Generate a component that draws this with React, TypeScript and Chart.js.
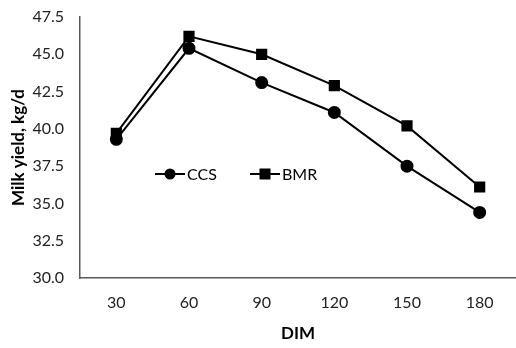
import React, { useEffect, useRef } from "react";
import { Chart, registerables } from "chart.js";

Chart.register(...registerables);

const categories = ["30", "60", "90", "120", "150", "180"];
const ccsValues = [39.3, 45.4, 43.1, 41.1, 37.5, 34.4];
const bmrValues = [39.7, 46.2, 45.0, 42.9, 40.2, 36.1];
const seriesNames = ["CCS", "BMR"];
const FONT = "Lato, 'Open Sans', sans-serif";

const legendPlugin = {
  id: "insideLegend",
  afterDraw(chart: any) {
    const ctx = chart.ctx;
    const items = [
      { label: seriesNames[0], x: 155, style: "circle" },
      { label: seriesNames[1], x: 250, style: "rect" },
    ];
    const y = 174;
    ctx.save();
    items.forEach((it) => {
      ctx.strokeStyle = "#000";
      ctx.lineWidth = 2;
      ctx.beginPath();
      ctx.moveTo(it.x, y);
      ctx.lineTo(it.x + 30, y);
      ctx.stroke();
      ctx.fillStyle = "#000";
      if (it.style === "circle") {
        ctx.beginPath();
        ctx.arc(it.x + 15, y, 5.5, 0, Math.PI * 2);
        ctx.fill();
      } else {
        ctx.fillRect(it.x + 9.5, y - 5.5, 11, 11);
      }
      ctx.font = `16px ${FONT}`;
      ctx.textBaseline = "middle";
      ctx.textAlign = "left";
      ctx.fillText(it.label, it.x + 32, y + 1);
    });
    ctx.restore();
  },
};

export default function App() {
  const ref = useRef<HTMLCanvasElement>(null);
  useEffect(() => {
    document.body.style.margin = "0";
    const chart = new Chart(ref.current!, {
      type: "line",
      data: {
        labels: categories,
        datasets: [
          {
            label: seriesNames[0],
            data: ccsValues,
            borderColor: "#000",
            backgroundColor: "#000",
            borderWidth: 2,
            pointStyle: "circle",
            pointRadius: 5.5,
            pointHoverRadius: 5.5,
          },
          {
            label: seriesNames[1],
            data: bmrValues,
            borderColor: "#000",
            backgroundColor: "#000",
            borderWidth: 2,
            pointStyle: "rect",
            pointRadius: 6.5,
            pointHoverRadius: 6.5,
          },
        ],
      },
      options: {
        animation: false,
        responsive: false,
        layout: { autoPadding: false, padding: { top: 17, right: 0, left: 0, bottom: 0 } },
        plugins: {
          legend: { display: false },
          tooltip: { enabled: false },
        },
        scales: {
          x: {
            offset: true,
            grid: { display: false, drawTicks: false },
            border: { display: true, color: "#595959", width: 1.5 },
            ticks: {
              color: "#222",
              font: { family: FONT, size: 16 },
              padding: 15,
            },
            title: {
              display: true,
              text: "DIM",
              color: "#000",
              font: { family: FONT, size: 17, weight: "bold" },
              padding: { top: 8 },
            },
            afterFit: (s: any) => {
              s.height = 70;
              s.paddingLeft = 0;
              s.paddingRight = 0;
            },
          },
          y: {
            min: 30,
            max: 47.5,
            grid: { display: false, drawTicks: false },
            border: { display: true, color: "#595959", width: 1.5 },
            ticks: {
              stepSize: 2.5,
              color: "#222",
              font: { family: FONT, size: 16 },
              padding: 16,
              callback: (v: any) => Number(v).toFixed(1),
            },
            title: {
              display: true,
              text: "Milk yield, kg/d",
              color: "#000",
              font: { family: FONT, size: 17, weight: "bold" },
              padding: { top: 8, bottom: 4 },
            },
            afterFit: (s: any) => {
              s.width = 80;
              s.paddingTop = 0;
              s.paddingBottom = 0;
            },
          },
        },
      },
      plugins: [legendPlugin],
    });
    return () => chart.destroy();
  }, []);
  return <canvas ref={ref} width={516} height={348} style={{ display: "block" }} />;
}
